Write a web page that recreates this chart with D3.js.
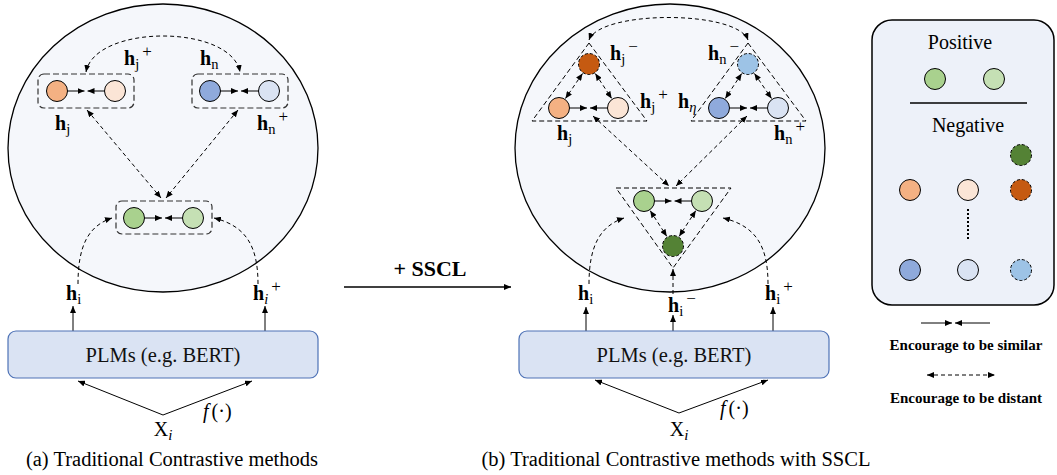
<!DOCTYPE html>
<html><head><meta charset="utf-8">
<script src="https://cdn.jsdelivr.net/npm/d3@7"></script>
<style>html,body{margin:0;padding:0;background:#fff;}svg{display:block;font-family:"Liberation Serif","Times New Roman",serif;}</style>
</head><body>
<script>
// ---- content (text + colours) ----
const captions = ["(a) Traditional Contrastive methods", "(b) Traditional Contrastive methods with SSCL"];
const encoderLabel = "PLMs (e.g. BERT)";
const transitionLabel = "+ SSCL";
const legendTitles = ["Positive", "Negative"];
const legendNotes = ["Encourage to be similar", "Encourage to be distant"];
const anchorColors = ["#a9d18e", "#c5e0b4"];          // h_i , h_i+
const hardNegColor = "#548235";                        // h_i-
const groupJ = ["#f4b183", "#fbe5d6", "#c55a11"];      // h_j, h_j+, h_j-
const groupN = ["#8faadc", "#dae3f3", "#9dc3e6"];      // h_n, h_n+, h_n-

const W = 1057, H = 475, R = 10.5;
const svg = d3.select("body").append("svg").attr("width", W).attr("height", H);
const defs = svg.append("defs");
defs.append("marker").attr("id", "ah").attr("viewBox", "0 0 7 6")
  .attr("markerUnits", "userSpaceOnUse").attr("markerWidth", 7).attr("markerHeight", 6)
  .attr("refX", 7).attr("refY", 3).attr("orient", "auto-start-reverse")
  .append("path").attr("d", "M0,0L7,3L0,6Z").attr("fill", "#000").attr("stroke", "none");

const g = svg.append("g");

function circ(x, y, fill, dashed) {
  g.append("circle").attr("cx", x).attr("cy", y).attr("r", R).attr("fill", fill)
    .attr("stroke", "#000").attr("stroke-width", 1)
    .attr("stroke-dasharray", dashed ? "3,2" : null);
}
function dline(x1, y1, x2, y2, both, dash) {
  const l = g.append("line").attr("x1", x1).attr("y1", y1).attr("x2", x2).attr("y2", y2)
    .attr("stroke", "#000").attr("stroke-width", 1)
    .attr("stroke-dasharray", dash === false ? null : "4,3")
    .attr("marker-end", "url(#ah)");
  if (both) l.attr("marker-start", "url(#ah)");
}
function dpath(d, both) {
  const p = g.append("path").attr("d", d).attr("fill", "none").attr("stroke", "#000")
    .attr("stroke-width", 1).attr("stroke-dasharray", "4,3").attr("marker-end", "url(#ah)");
  if (both) p.attr("marker-start", "url(#ah)");
}
// edge-to-edge double arrow between circle centres
function between(x1, y1, x2, y2) {
  const dx = x2 - x1, dy = y2 - y1, L = Math.hypot(dx, dy), ux = dx / L, uy = dy / L;
  dline(x1 + ux * (R + 1), y1 + uy * (R + 1), x2 - ux * (R + 1), y2 - uy * (R + 1), true);
}
function similar(x1, x2, y) {
  const c = (x1 + x2) / 2;
  dline(x1 + R, y, c - 1.5, y, false, false);
  dline(x2 - R, y, c + 1.5, y, false, false);
}
function hlabel(x, y, sub, sup, opts = {}) {
  const t = g.append("text").attr("x", x).attr("y", y).attr("font-size", 20);
  t.append("tspan").attr("font-weight", "bold").text("h");
  t.append("tspan").attr("font-size", 14.5).attr("dy", 4)
    .attr("font-style", opts.subItalic ? "italic" : null).text(sub);
  if (sup) t.append("tspan").attr("font-size", 17).attr("dx", opts.supDx || 3).attr("dy", -12.5).text(sup);
}
function upArrow(x, y1, y2) { dline(x, y1, x, y2, false, false); }

// ---------------- panel (a) ----------------
g.append("ellipse").attr("cx", 163).attr("cy", 148).attr("rx", 155).attr("ry", 144)
  .attr("fill", "#f5f7fb").attr("stroke", "#000").attr("stroke-width", 1.3);
[[38, 74], [192, 74], [116, 201]].forEach(([x, y]) => {
  g.append("rect").attr("x", x).attr("y", y).attr("width", 96).attr("height", y === 201 ? 33 : 34)
    .attr("rx", 6).attr("fill", "none").attr("stroke", "#333").attr("stroke-width", 1.2)
    .attr("stroke-dasharray", "6,3");
});
circ(57, 91, groupJ[0]); circ(115, 91, groupJ[1]); similar(57, 115, 91);
circ(210, 91, groupN[0]); circ(269, 91, groupN[1]); similar(210, 269, 91);
circ(134, 218, anchorColors[0]); circ(193, 218, anchorColors[1]); similar(134, 193, 218);
dpath("M86,72 C95,24 231,24 240,72", true);
dline(87, 110, 161, 198, true);
dline(238, 110, 166, 198, true);
dpath("M78,284 C78,246 88,226 112,218", false);
dpath("M258,284 C258,246 246,226 214,218", false);
hlabel(124, 65, "j", "+");
hlabel(200, 65, "n");
hlabel(55, 130, "j");
hlabel(257, 130, "n", "+");
hlabel(66, 300, "i");
hlabel(253, 300, "i", "+", { subItalic: true });
upArrow(73, 331, 306); upArrow(265, 331, 306);

function encoder(x, w) {
  g.append("rect").attr("x", x).attr("y", 331).attr("width", w).attr("height", 47).attr("rx", 8)
    .attr("fill", "#dae3f3").attr("stroke", "#4e72b6").attr("stroke-width", 1.2);
  g.append("text").attr("x", x + w / 2).attr("y", 362).attr("text-anchor", "middle")
    .attr("font-size", 20.5).attr("fill", "#111").text(encoderLabel);
}
encoder(8, 310);
function input(cx, ay, lx, rx, ey, fx, fy) {
  dline(cx, ay, lx, ey, false, false);
  dline(cx, ay, rx, ey, false, false);
  const t = g.append("text").attr("x", cx).attr("y", 436).attr("text-anchor", "middle").attr("font-size", 20);
  t.append("tspan").text("X");
  t.append("tspan").attr("font-style", "italic").attr("font-size", 15).attr("dy", 4).text("i");
  const f = g.append("text").attr("x", fx).attr("y", fy).attr("font-size", 20);
  f.append("tspan").attr("font-style", "italic").text("f");
  f.append("tspan").attr("dx", 3).text("(·)");
}
input(163, 415, 78, 252, 381, 203, 418);
g.append("text").attr("x", 172).attr("y", 466).attr("text-anchor", "middle").attr("font-size", 20.5).text(captions[0]);

// ---------------- transition ----------------
g.append("text").attr("x", 430).attr("y", 276).attr("text-anchor", "middle")
  .attr("font-size", 22).attr("font-weight", "bold").text(transitionLabel);
g.append("line").attr("x1", 344).attr("y1", 287).attr("x2", 511).attr("y2", 287)
  .attr("stroke", "#000").attr("stroke-width", 1.5).attr("marker-end", "url(#ah)");

// ---------------- panel (b) ----------------
g.append("ellipse").attr("cx", 670).attr("cy", 148).attr("rx", 155).attr("ry", 144)
  .attr("fill", "#f5f7fb").attr("stroke", "#000").attr("stroke-width", 1.3);
const tri = pts => g.append("path").attr("d", "M" + pts.map(p => p.join(",")).join("L") + "Z")
  .attr("fill", "none").attr("stroke", "#000").attr("stroke-width", 1).attr("stroke-dasharray", "5,3");
tri([[589, 43], [647, 121], [532, 121]]);
tri([[748, 43], [806, 121], [691, 121]]);
tri([[616, 188], [731, 188], [673, 268]]);

circ(589, 64, groupJ[2], true); circ(559, 108, groupJ[0]); circ(618, 108, groupJ[1]);
similar(559, 618, 108); between(589, 64, 559, 108); between(589, 64, 618, 108);
circ(748, 64, groupN[2], true); circ(719, 108, groupN[0]); circ(778, 108, groupN[1]);
similar(719, 778, 108); between(748, 64, 719, 108); between(748, 64, 778, 108);
circ(644, 201, anchorColors[0]); circ(702, 201, anchorColors[1]); circ(673, 246, hardNegColor, true);
similar(644, 702, 201); between(644, 201, 673, 246); between(702, 201, 673, 246);

dpath("M589,40 C600,10 737,10 748,40", true);
dline(593, 116, 669, 186, true);
dline(747, 116, 676, 186, true);
dpath("M589,284 C589,246 600,226 624,218", false);
dpath("M768,284 C768,246 756,226 723,218", false);
dline(673, 294, 673, 269, false);

hlabel(610, 60, "j", "−");
hlabel(640, 108, "j", "+");
hlabel(557, 140, "j");
hlabel(708, 60, "n", "−");
hlabel(678, 108, "η", null, { subItalic: true });
hlabel(774, 140, "n", "+");
hlabel(578, 300, "i");
hlabel(668, 312, "i", "−");
hlabel(765, 300, "i", "+");
upArrow(586, 331, 307); upArrow(673, 331, 315); upArrow(773, 331, 307);
encoder(519, 310);
input(679, 413, 595, 768, 380, 720, 415);
g.append("text").attr("x", 676).attr("y", 466).attr("text-anchor", "middle").attr("font-size", 20.5).text(captions[1]);

// ---------------- legend ----------------
g.append("rect").attr("x", 872).attr("y", 20).attr("width", 182).attr("height", 285).attr("rx", 20)
  .attr("fill", "#edf1f9").attr("stroke", "#000").attr("stroke-width", 1.5);
g.append("text").attr("x", 960).attr("y", 49).attr("text-anchor", "middle").attr("font-size", 20).text(legendTitles[0]);
circ(935, 79, anchorColors[0]); circ(994, 79, anchorColors[1]);
g.append("line").attr("x1", 910).attr("y1", 103).attr("x2", 1027).attr("y2", 103).attr("stroke", "#000").attr("stroke-width", 1.5);
g.append("text").attr("x", 968).attr("y", 132).attr("text-anchor", "middle").attr("font-size", 20).text(legendTitles[1]);
circ(1021, 155, hardNegColor, true);
circ(910, 190, groupJ[0]); circ(968, 190, groupJ[1]); circ(1021, 190, groupJ[2], true);
g.append("line").attr("x1", 968).attr("y1", 209).attr("x2", 968).attr("y2", 241)
  .attr("stroke", "#000").attr("stroke-width", 2).attr("stroke-dasharray", "2,2");
circ(910, 270, groupN[0]); circ(968, 270, groupN[1]); circ(1021, 270, groupN[2], true);

dline(921, 323, 952, 323, false, false);
dline(990, 323, 955, 323, false, false);
g.append("text").attr("x", 966).attr("y", 350).attr("text-anchor", "middle").attr("font-size", 15)
  .attr("font-weight", "bold").text(legendNotes[0]);
dline(927, 375, 995, 375, true);
g.append("text").attr("x", 966).attr("y", 403).attr("text-anchor", "middle").attr("font-size", 15)
  .attr("font-weight", "bold").text(legendNotes[1]);
</script>
</body></html>
